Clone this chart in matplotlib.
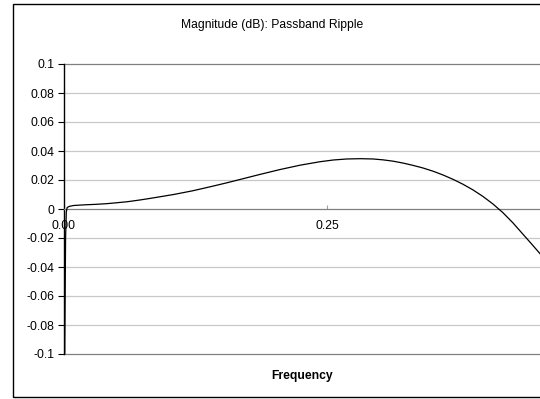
import matplotlib
matplotlib.use("Agg")
import matplotlib.pyplot as plt
from matplotlib.patches import Rectangle

plt.rcParams['font.family'] = ['Liberation Sans', 'DejaVu Sans']

# passband ripple of the filter response (dB) against normalised frequency
freq = [0.0, 0.0008, 0.0015, 0.0022, 0.003, 0.005, 0.009, 0.02, 0.03, 0.041,
        0.05, 0.06, 0.072, 0.08, 0.091, 0.105, 0.1226, 0.14, 0.155, 0.167,
        0.186, 0.2053, 0.2243, 0.2433, 0.256, 0.269, 0.282, 0.2937, 0.3032, 0.3127,
        0.3222, 0.3317, 0.3412, 0.3507, 0.3602, 0.3697, 0.3792, 0.3887, 0.3982, 0.4077,
        0.4172, 0.4267, 0.4362, 0.4457, 0.4525, 0.456]
mag_db = [-0.2, -0.09, -0.02, -0.002, 0.001, 0.0018, 0.0024, 0.0029, 0.0032, 0.0037,
          0.0043, 0.005, 0.0062, 0.0071, 0.0084, 0.0101, 0.0126, 0.0155, 0.0181, 0.0203,
          0.0238, 0.0272, 0.0302, 0.0326, 0.0338, 0.0345, 0.0347, 0.0345, 0.0339, 0.0330,
          0.0317, 0.0301, 0.0283, 0.0261, 0.0235, 0.0205, 0.0171, 0.0132, 0.0087, 0.0035,
          -0.0025, -0.0095, -0.0173, -0.0251, -0.0308, -0.0337]

y_ticks = [0.1, 0.08, 0.06, 0.04, 0.02, 0, -0.02, -0.04, -0.06, -0.08, -0.1]
y_labels = ['0.1', '0.08', '0.06', '0.04', '0.02', '0', '-0.02', '-0.04', '-0.06', '-0.08', '-0.1']
x_ticks = [0.0, 0.25]
x_labels = ['0.00', '0.25']

fs = 8.7
fig = plt.figure(figsize=(5.4, 3.99), dpi=100)
ax = fig.add_axes([64 / 540, 45 / 399, 476 / 540, 290 / 399])

# chart frame
fig.patches.append(Rectangle((13 / 540, 2 / 399), 1.0, 393 / 399, transform=fig.transFigure,
                             fill=False, edgecolor='black', linewidth=1.0, clip_on=False))

ax.set_xlim(0, 0.4525)
ax.set_ylim(-0.1, 0.1)

for y in y_ticks:
    if y in (0.1, -0.1):
        ax.axhline(y, color='#808080', linewidth=0.9, zorder=1, clip_on=False)
    elif y != 0:
        ax.axhline(y, color='#c8c8c8', linewidth=0.9, zorder=1)

ax.plot(freq, mag_db, color='black', linewidth=0.9, zorder=3)

for side in ['top', 'right']:
    ax.spines[side].set_visible(False)
ax.spines['left'].set_color('black')
ax.spines['left'].set_linewidth(1.0)
ax.spines['bottom'].set_position(('data', 0))
ax.spines['bottom'].set_color('#808080')
ax.spines['bottom'].set_linewidth(0.9)

ax.set_yticks(y_ticks)
ax.set_yticklabels(y_labels, fontsize=fs)
ax.tick_params(axis='y', direction='out', length=4, width=0.8, pad=3)
ax.set_xticks(x_ticks)
ax.set_xticklabels(x_labels, fontsize=fs)
ax.tick_params(axis='x', direction='in', length=3, width=0.8, color='#a0a0a0', pad=8)

fig.text(272 / 540, 1 - 25 / 399, 'Magnitude (dB): Passband Ripple', fontsize=fs,
         ha='center', va='center')
fig.text(302 / 540, 1 - 376 / 399, 'Frequency', fontsize=fs, fontweight='bold',
         ha='center', va='center')

fig.savefig('out.png', dpi=100)
